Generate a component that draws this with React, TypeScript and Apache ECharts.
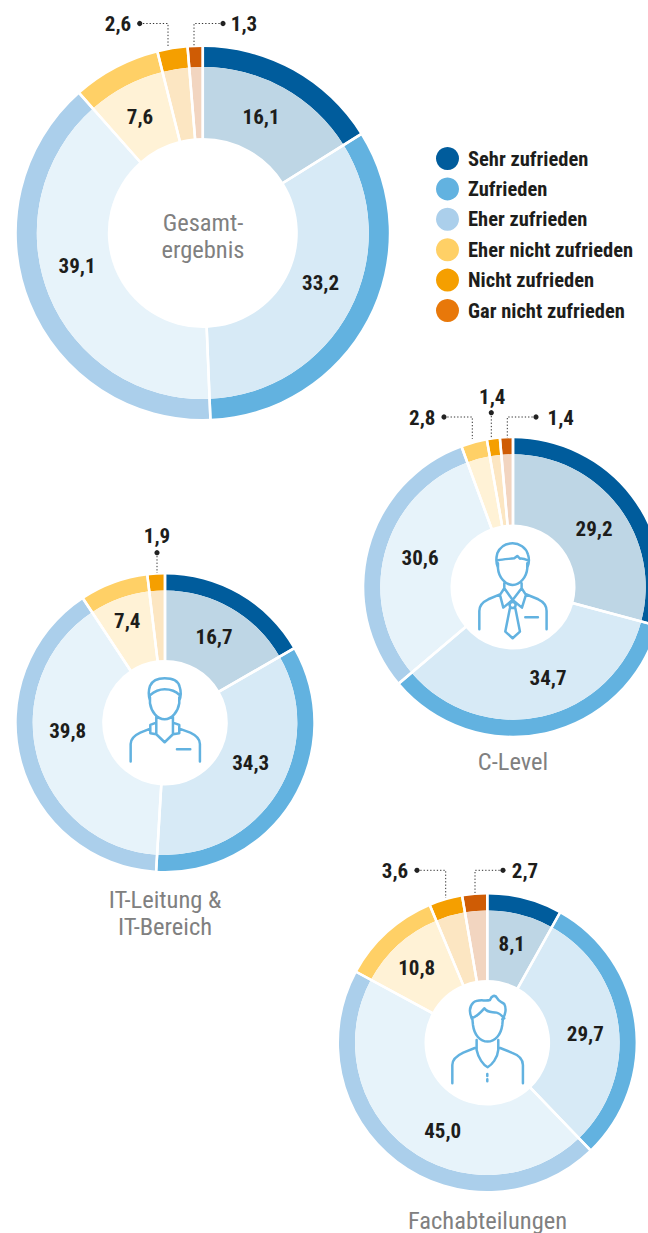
import React, { useEffect, useRef } from "react";
import * as echarts from "echarts";

const categories = ["Sehr zufrieden", "Zufrieden", "Eher zufrieden", "Eher nicht zufrieden", "Nicht zufrieden", "Gar nicht zufrieden"];
const gesamtValues = [16.1, 33.2, 39.1, 7.6, 2.6, 1.3];
const cLevelValues = [29.2, 34.7, 30.6, 2.8, 1.4, 1.4];
const itValues = [16.7, 34.3, 39.8, 7.4, 1.9, 0];
const fachValues = [8.1, 29.7, 45.0, 10.8, 3.6, 2.7];

const ringColors = ["#005c9c", "#62b2e0", "#abcfeb", "#ffd066", "#f59f00", "#cf5c05"];
const innerColors = ["#bed6e5", "#d7eaf6", "#e7f3fa", "#fff2d6", "#fce6c2", "#f2d5c0"];
const legendColors = ["#005c9c", "#62b2e0", "#abcfeb", "#ffd066", "#f59f00", "#e8780a"];

const NARROW = "'Roboto Condensed', 'Open Sans Condensed', sans-serif";
const DARK = "#1d1d1b";
const GREY = "#808080";
const fmt = (v: number) => v.toFixed(1).replace(".", ",");

const layouts = [
  { values: gesamtValues, c: [202.8, 233], r: [95, 166, 186], labels: [[261, 116.5], [320.5, 283], [77, 265.5], [140, 117]] },
  { values: cLevelValues, c: [513, 587], r: [62.5, 132.7, 148.7], labels: [[594, 529], [548, 677.7], [420, 557.7]] },
  { values: itValues, c: [165, 722.7], r: [62.8, 132.3, 148.3], labels: [[214, 637], [250.7, 762.7], [67.7, 731], [127.3, 621]] },
  { values: fachValues, c: [487.3, 1042.7], r: [62.8, 132.3, 148.3], labels: [[511.7, 944], [585.3, 1034.3], [442.7, 1130.7], [416.7, 968.3]] },
];

// [value, text x, text y, dotted line points (starts at the dot)]
const callouts: [number, number, number, number[][]][] = [
  [gesamtValues[4], 118, 24, [[139.7, 23.5], [168, 23.5], [168, 47]]],
  [gesamtValues[5], 244, 24, [[223, 23.5], [194, 23.5], [194, 46]]],
  [cLevelValues[3], 422.3, 417.7, [[444, 417], [472.3, 417], [472.3, 439]]],
  [cLevelValues[4], 492.3, 396.7, [[491.3, 412.7], [491.3, 438]]],
  [cLevelValues[5], 560.7, 417.7, [[536, 417], [507.3, 417], [507.3, 438]]],
  [itValues[4], 157, 535.5, [[157, 552.7], [157, 573]]],
  [fachValues[4], 395, 870.7, [[417, 870.3], [445.7, 870.3], [445.7, 898]]],
  [fachValues[5], 525, 870.7, [[503, 870.3], [475, 870.3], [475, 893]]],
];

const captions: [string, number, number][] = [
  ["Gesamt-", 203, 222],
  ["ergebnis", 203, 249],
  ["C-Level", 513, 761],
  ["IT-Leitung &", 165, 899],
  ["IT-Bereich", 165, 926],
  ["Fachabteilungen", 487.5, 1220],
];

const iconC = "M84 98C78 85 78 70 82 55C92 32 112 25 128 25C148 25 168 38 174 58C178 70 178 85 172 98M84 76C100 72 120 72 133 70L142 63L150 71C158 70 165 72 174 76M84 85L84 100C86 125 105 150 128 150C151 150 170 125 172 100L172 85M103 145L103 160L90 180L100 218L128 195L156 218L168 180L155 160L155 145M103 160L128 195L155 160M28 283L28 228C28 210 40 200 55 193L90 178M168 178L205 193C220 200 230 210 230 228L230 283M119 210A9 9 0 1 0 137 210A9 9 0 1 0 119 210M120 219L106 290L128 310L150 290L136 219M166 247L204 247";
const iconIT = "M84 92C80 80 80 60 84 48C92 30 110 25 128 25C148 25 168 30 173 50C177 62 177 80 172 92M84 76C100 62 115 58 128 58C145 58 160 62 174 76M84 82L84 100C88 125 105 148 128 148C150 148 168 125 172 100L172 82M103 140L103 193M153 140L153 193M103 158L85 165L85 190L103 193L128 217L153 193L172 190L172 165L153 158M26 275L26 222C26 205 40 195 55 188L85 176M172 176L205 188C220 195 234 205 234 222L234 275M165 238L205 238";
const iconFach = "M82 88C72 70 72 50 85 38C100 25 120 35 135 30C140 18 150 12 157 25C162 35 170 35 178 42C185 55 182 75 172 88M80 85C95 80 105 70 118 55C128 70 140 65 155 68C165 70 172 78 178 85M82 85L84 105C88 135 105 155 128 155C150 155 168 135 172 105L174 85M95 150L95 180C100 205 115 225 128 232C140 225 158 205 160 180L160 150M22 280L22 225C22 205 40 195 55 188L95 172M160 172L200 188C220 195 234 205 234 225L234 280M127 252L127 258M127 268L127 274";

echarts.graphic.registerShape("iconC", echarts.graphic.extendPath(iconC, {}));
echarts.graphic.registerShape("iconIT", echarts.graphic.extendPath(iconIT, {}));
echarts.graphic.registerShape("iconFach", echarts.graphic.extendPath(iconFach, {}));

function buildSeries() {
  const series: any[] = [];
  layouts.forEach((l) => {
    const base = { type: "pie", center: l.c, startAngle: 90, silent: true, avoidLabelOverlap: false, labelLine: { show: false } };
    const items = (colors: string[]) =>
      l.values.map((v, i) => ({ name: categories[i], value: v, itemStyle: { color: colors[i] } })).filter((d) => d.value > 0);
    series.push({ ...base, radius: [l.r[1], l.r[2]], data: items(ringColors), label: { show: false } });
    series.push({
      ...base,
      radius: [l.r[0], l.r[1]],
      data: items(innerColors),
      label: {
        show: true,
        position: "inside",
        formatter: (p: any) => (p.dataIndex < l.labels.length ? fmt(p.value) : ""),
        fontFamily: NARROW,
        fontWeight: "bold",
        fontSize: 21,
        color: DARK,
      },
      labelLayout: (p: any) => {
        const pos = l.labels[p.dataIndex];
        return pos ? { x: pos[0], y: pos[1], align: "center", verticalAlign: "middle" } : {};
      },
    });
    series.push({
      ...base,
      radius: [l.r[0] - 2, l.r[2] + 2],
      data: items(ringColors).map((d) => ({
        ...d,
        itemStyle: { color: "rgba(0,0,0,0)", borderColor: "#ffffff", borderWidth: 2.5 },
      })),
      label: { show: false },
      z: 3,
    });
  });
  return series;
}

function buildGraphic() {
  const g: any[] = [];
  callouts.forEach(([v, tx, ty, pts]) => {
    g.push({ type: "polyline", shape: { points: pts }, style: { stroke: "#333333", lineWidth: 1, lineDash: [1.3, 2], fill: "none" }, z: 10 });
    g.push({ type: "circle", shape: { cx: pts[0][0], cy: pts[0][1], r: 2.6 }, style: { fill: "#222222" }, z: 10 });
    g.push({
      type: "text",
      x: tx,
      y: ty,
      style: { text: fmt(v), fontFamily: NARROW, fontWeight: "bold", fontSize: 21, fill: DARK, textAlign: "center", textVerticalAlign: "middle" },
      z: 10,
    });
  });
  captions.forEach(([t, x, y]) => {
    g.push({
      type: "text",
      x,
      y,
      style: { text: t, fontFamily: NARROW, fontSize: 24.5, fill: GREY, textAlign: "center", textVerticalAlign: "middle" },
      z: 10,
    });
  });
  const iconStyle = { stroke: "#62b2e0", lineWidth: 7.5, fill: "none", lineCap: "round", lineJoin: "round" };
  g.push({ type: "iconC", x: 470, y: 535, scaleX: 1 / 3, scaleY: 1 / 3, style: iconStyle, z: 10 });
  g.push({ type: "iconIT", x: 122, y: 670, scaleX: 1 / 3, scaleY: 1 / 3, style: iconStyle, z: 10 });
  g.push({ type: "iconFach", x: 445, y: 990, scaleX: 1 / 3, scaleY: 1 / 3, style: iconStyle, z: 10 });
  return g;
}

export default function App() {
  const ref = useRef<HTMLDivElement>(null);
  useEffect(() => {
    const chart = echarts.init(ref.current!, undefined, { renderer: "svg" });
    chart.setOption({
      animation: false,
      backgroundColor: "#ffffff",
      legend: {
        orient: "vertical",
        left: 431,
        top: 142,
        icon: "circle",
        itemWidth: 23,
        itemHeight: 23,
        itemGap: 7.4,
        selectedMode: false,
        data: categories.map((name, i) => ({ name, itemStyle: { color: legendColors[i] } })),
        textStyle: { fontFamily: NARROW, fontWeight: "bold", fontSize: 20.5, color: DARK, padding: [0, 0, 0, 4] },
      },
      series: buildSeries(),
      graphic: buildGraphic(),
    });
    return () => chart.dispose();
  }, []);
  return <div ref={ref} style={{ position: "fixed", left: 0, top: 0, width: 648, height: 1233 }} />;
}
